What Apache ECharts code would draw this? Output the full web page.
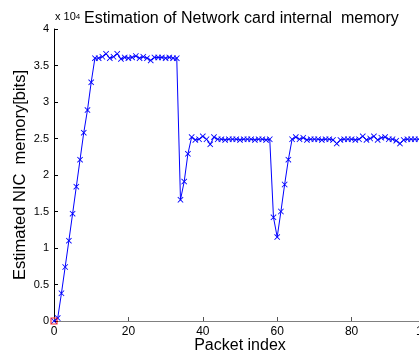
<!DOCTYPE html>
<html>
<head>
<meta charset="utf-8">
<script src="https://cdn.jsdelivr.net/npm/echarts@6/dist/echarts.min.js"></script>
<style>
  html, body { margin: 0; padding: 0; background: #fff; }
  #chart { width: 419px; height: 356px; }
</style>
</head>
<body>
<div id="chart"></div>
<script>
// packet index 0..100
const packetIndex = Array.from({ length: 101 }, (_, i) => i)

// estimated NIC memory in bits
const nicMemory = [
  0, 400, 3800, 7400, 11000, 14700, 18400, 22100, 25800, 28900, 32700,
  36000, 36000, 36200, 36600, 36000, 36200, 36600, 35900, 36100, 36000,
  36100, 36300, 36000, 36200, 36000, 35700, 36100, 36100, 36100, 36000,
  36100, 36000, 36000,
  16600, 19100, 22900,
  25200, 24800, 24900, 25300, 24900, 24200, 25200, 24900, 24900, 24800,
  24900, 24900, 24900, 24800, 24900, 24900, 24900, 24800, 24900, 24900,
  24800, 24900,
  14200, 11500, 15000, 18700, 22100,
  24900, 25200, 24900, 25100, 24800, 24900, 24900, 24900, 24800, 24900,
  24900, 24800, 24300, 24800, 24900, 24900, 24900, 24800, 24900, 25300,
  24800, 25000, 25300, 24800, 25100, 25200, 24900, 24900, 24700, 24300,
  24800, 24900, 24900, 24900, 24900, 24800, 24900
]

// red square reference point at the origin
const startPoint = [[0, 0]]

const xTicks = { min: 0, max: 100, interval: 20 }
const yTicks = { min: 0, max: 40000, interval: 5000 }

const crossSymbol = 'path://M0,1L1,0L5,4L9,0L10,1L6,5L10,9L9,10L5,6L1,10L0,9L4,5Z'
const font = 'Liberation Sans, Arial, sans-serif'

const chart = echarts.init(document.getElementById('chart'))

const option = {
  animation: false,
  backgroundColor: '#fff',
  title: {
    text: 'Estimation of Network card internal  memory',
    left: 79,
    top: 6,
    textStyle: { fontFamily: font, fontSize: 16, fontWeight: 'normal', color: '#000' }
  },
  graphic: [
    {
      type: 'text',
      left: 55,
      top: 11,
      style: {
        text: '{a|x 10}{b|4}',
        fontFamily: font,
        rich: {
          a: { fontSize: 11, fontFamily: font, fill: '#000', verticalAlign: 'bottom', height: 14 },
          b: { fontSize: 8, fontFamily: font, fill: '#000', verticalAlign: 'top', height: 14 }
        }
      }
    }
  ],
  // plot runs past the right edge of the picture, x = 100 falls at ~426 px
  grid: { left: 54, top: 29, width: 372, bottom: 35, outerBoundsMode: 'none', containLabel: false },
  xAxis: {
    type: 'value',
    min: xTicks.min,
    max: xTicks.max,
    interval: xTicks.interval,
    name: 'Packet index',
    nameLocation: 'middle',
    nameGap: 17,
    nameMoveOverlap: false,
    nameTextStyle: { fontFamily: font, fontSize: 16, color: '#000' },
    axisLine: { lineStyle: { color: '#808080', width: 1 } },
    axisTick: { inside: true, length: 4, lineStyle: { color: '#555' } },
    axisLabel: { fontFamily: font, fontSize: 12, color: '#000', margin: 5 },
    splitLine: { show: false }
  },
  yAxis: {
    type: 'value',
    min: yTicks.min,
    max: yTicks.max,
    interval: yTicks.interval,
    name: 'Estimated NIC  memory[bits]',
    nameLocation: 'middle',
    nameGap: 25,
    nameMoveOverlap: false,
    nameTextStyle: { fontFamily: font, fontSize: 16.5, color: '#000' },
    axisLine: { show: true, lineStyle: { color: '#000', width: 1 } },
    axisTick: { show: true, inside: true, length: 4, lineStyle: { color: '#000' } },
    axisLabel: {
      fontFamily: font,
      fontSize: 11,
      color: '#000',
      margin: 5,
      formatter: v => String(v / 10000)
    },
    splitLine: { show: false }
  },
  series: [
    {
      type: 'line',
      data: packetIndex.map((x, i) => [x, nicMemory[i]]),
      symbol: crossSymbol,
      symbolSize: 6,
      showAllSymbol: true,
      lineStyle: { color: '#0000ff', width: 1 },
      itemStyle: { color: '#0000ff' },
      z: 3
    },
    {
      type: 'scatter',
      data: startPoint,
      symbol: 'rect',
      symbolSize: 6,
      itemStyle: { color: 'rgba(0,0,0,0)', borderColor: '#ff0000', borderWidth: 1.2 },
      z: 4
    }
  ]
}

chart.setOption(option)
</script>
</body>
</html>
